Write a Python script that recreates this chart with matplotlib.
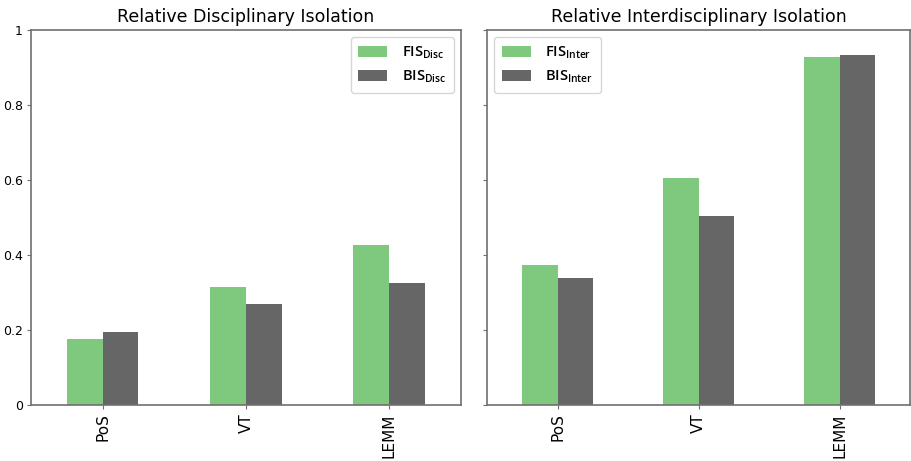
import matplotlib
matplotlib.use("Agg")
import matplotlib.pyplot as plt
import numpy as np

categories = ["PoS", "VT", "LEMM"]
fis_disc = [0.176, 0.315, 0.427]
bis_disc = [0.195, 0.269, 0.325]
fis_inter = [0.373, 0.605, 0.928]
bis_inter = [0.339, 0.504, 0.933]
yticks = [0, 0.2, 0.4, 0.6, 0.8, 1]
ytick_labels = ["0", "0.2", "0.4", "0.6", "0.8", "1"]

green = "#7fc97f"
grey = "#666666"
spine = "#707070"

fig = plt.figure(figsize=(9.11, 4.61), dpi=100)
ax_l = fig.add_axes([0.034, 0.1215, 0.472, 0.8135])
ax_r = fig.add_axes([0.5346, 0.1215, 0.4644, 0.8135])

x = np.arange(len(categories))
w = 0.25


def draw(ax, fis, bis, sub, title, loc, show_labels):
    ax.bar(x - w / 2, fis, w, color=green, label=r"FIS$_{\mathregular{%s}}$" % sub)
    ax.bar(x + w / 2, bis, w, color=grey, label=r"BIS$_{\mathregular{%s}}$" % sub)
    ax.set_xlim(-0.5, 2.5)
    ax.set_ylim(0, 1)
    ax.set_xticks(x)
    ax.set_xticklabels(categories, rotation=90, fontsize=11)
    ax.set_yticks(yticks)
    if show_labels:
        ax.set_yticklabels(ytick_labels, fontsize=9)
    else:
        ax.set_yticklabels([])
    ax.set_title(title, fontsize=12.5, pad=6)
    for s in ax.spines.values():
        s.set_color(spine)
        s.set_linewidth(1.2)
    ax.tick_params(colors=spine, labelcolor="black", length=3, pad=3)
    leg = ax.legend(loc=loc, prop={"family": "Open Sans", "weight": "semibold", "size": 10.5},
                    handlelength=2.0, handleheight=0.8, borderpad=0.5, labelspacing=0.5,
                    handletextpad=1.0)
    for t in leg.get_texts():
        t.set_color("black")


draw(ax_l, fis_disc, bis_disc, "Disc", "Relative Disciplinary Isolation", "upper right", True)
draw(ax_r, fis_inter, bis_inter, "Inter", "Relative Interdisciplinary Isolation", "upper left", False)

fig.savefig("out.png", dpi=100)
